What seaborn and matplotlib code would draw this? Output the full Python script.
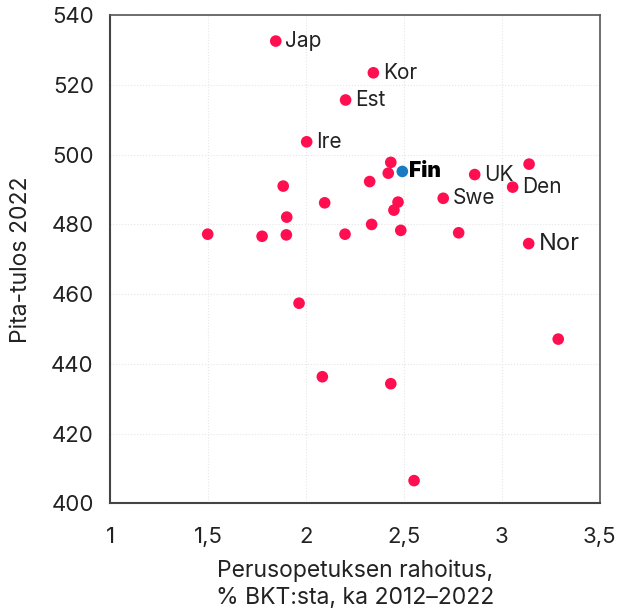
import pandas as pd
import seaborn as sns
import matplotlib
matplotlib.use("Agg")
import matplotlib.pyplot as plt
from matplotlib.ticker import FuncFormatter

# Data
countries = ["Jap", "Kor", "Est", "Ire", "Fin", "", "", "UK", "", "Den",
             "Swe", "Nor", "", "", "", "", "", "", "", "",
             "", "", "", "", "", "", "", "", "", ""]
funding = [1.845, 2.344, 2.202, 2.003, 2.492, 2.433, 2.420, 2.862, 3.140, 3.056,
           2.701, 3.138, 2.325, 2.095, 2.470, 2.449, 2.335, 2.484, 2.199, 2.780,
           1.883, 1.901, 1.497, 1.775, 1.899, 1.964, 2.083, 2.433, 3.289, 2.552]
pisa = [532.6, 523.5, 515.7, 503.7, 495.2, 497.8, 494.7, 494.3, 497.3, 490.7,
        487.5, 474.5, 492.3, 486.2, 486.4, 484.1, 480.0, 478.3, 477.2, 477.6,
        491.0, 482.1, 477.2, 476.6, 477.0, 457.4, 436.3, 434.3, 447.1, 406.5]

df = pd.DataFrame({"maa": countries, "x": funding, "y": pisa})
df["ryhma"] = ["Suomi" if m == "Fin" else "Muut" for m in df["maa"]]

sns.set_style("white")
plt.rcParams["font.family"] = ["Inter", "DejaVu Sans"]

fig = plt.figure(figsize=(6.19, 6.11), dpi=100)
ax = fig.add_axes([0.1785, 0.1763, 0.79, 0.7987])

sns.scatterplot(data=df, x="x", y="y", hue="ryhma",
                palette={"Muut": "#ff0f4f", "Suomi": "#1a7bc4"},
                s=70, edgecolor="none", legend=False, ax=ax, zorder=3)

# labels next to the named points
for _, r in df[df["maa"] != ""].iterrows():
    if r["maa"] == "Fin":
        ax.annotate(r["maa"], (r["x"], r["y"]), xytext=(5, 0), textcoords="offset points",
                    va="center", ha="left", fontsize=15, fontweight="black", color="black")
    else:
        size = 17 if r["maa"] == "Nor" else 15
        ax.annotate(r["maa"], (r["x"], r["y"]), xytext=(7, 0), textcoords="offset points",
                    va="center", ha="left", fontsize=size, color="#222222")

ax.set_xlim(1, 3.5)
ax.set_ylim(400, 540)
ax.set_xticks([1, 1.5, 2, 2.5, 3, 3.5])
ax.set_yticks(range(400, 541, 20))
ax.xaxis.set_major_formatter(FuncFormatter(lambda v, p: f"{v:g}".replace(".", ",")))
ax.grid(True, color="#e6e6e6", linestyle=":", linewidth=0.8)
ax.tick_params(axis="both", length=0, labelsize=16, colors="#222222")
ax.tick_params(axis="y", pad=12)
ax.tick_params(axis="x", pad=17)

for side in ["left", "bottom"]:
    ax.spines[side].set_color("#444444")
    ax.spines[side].set_linewidth(1.5)
for side in ["top", "right"]:
    ax.spines[side].set_color("#555555")
    ax.spines[side].set_linewidth(1.2)

ax.set_xlabel("Perusopetuksen rahoitus,\n% BKT:sta, ka 2012\u20132022",
              fontsize=16.5, color="#222222", labelpad=9, linespacing=1.3)
ax.set_ylabel("Pita-tulos 2022", fontsize=16.5, color="#222222", labelpad=14)

fig.savefig("out.png", dpi=100)
